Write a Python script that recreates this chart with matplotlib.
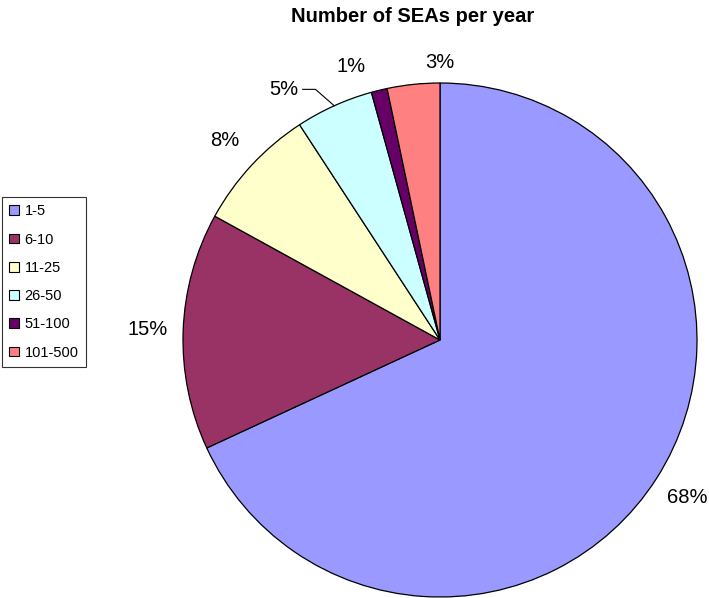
import numpy as np
import matplotlib.pyplot as plt

categories = ['1-5', '6-10', '11-25', '26-50', '51-100', '101-500']
values = [68.1, 14.9, 7.8, 4.9, 1.0, 3.3]
pct_labels = ['68%', '15%', '8%', '5%', '1%', '3%']
colors = ['#9999FF', '#993366', '#FFFFCC', '#CCFFFF', '#660066', '#FF8080']

plt.rcParams['font.family'] = ['Liberation Sans', 'DejaVu Sans']

fig = plt.figure(figsize=(7.09, 5.98), dpi=100)
ax = fig.add_axes([(440 - 257) / 709, 1 / 598, 514 / 709, 514 / 598])

wedges, texts = ax.pie(values, colors=colors, startangle=90, counterclock=False,
                       labels=pct_labels, labeldistance=1.12,
                       wedgeprops=dict(edgecolor='black', linewidth=0.9),
                       textprops=dict(fontsize=14.5))
ax.set_xlim(-1, 1)
ax.set_ylim(-1, 1)
ax.set_aspect('equal')

# nudge crowded small labels like excel does
for i, t in enumerate(texts):
    t.set_ha('center')
    t.set_va('center')
    w = wedges[i]
    mid = np.deg2rad((w.theta1 + w.theta2) / 2)
    r = 1.14
    if pct_labels[i] == '1%':
        mid = np.deg2rad(108)
        r = 1.12
    elif pct_labels[i] == '3%':
        mid = np.deg2rad(90)
        r = 1.08
    elif pct_labels[i] == '5%':
        mid = np.deg2rad(122)
        r = 1.15
        # leader line
        m0 = np.deg2rad((w.theta1 + w.theta2) / 2)
        ex, ey = np.cos(m0), np.sin(m0)
        lx, ly = r * np.cos(mid) + 0.075, r * np.sin(mid)
        ax.plot([lx, lx + 0.05, ex], [ly, ly, ey], color='black', lw=0.8,
                clip_on=False)
    t.set_position((r * np.cos(mid), r * np.sin(mid)))

fig.text(413 / 709, 1 - 17 / 598, 'Number of SEAs per year', ha='center', va='center',
         fontsize=14.5, fontweight='bold')

leg = ax.legend(wedges, categories, loc='upper left',
                bbox_to_anchor=(2 / 709, 1 - 197 / 598), bbox_transform=fig.transFigure,
                fontsize=10.5, frameon=True, fancybox=False, edgecolor='black',
                handlelength=0.65, handleheight=0.65, handletextpad=0.4,
                labelspacing=0.98, borderpad=0.5, borderaxespad=0)
leg.get_frame().set_linewidth(0.8)
for h in leg.legend_handles:
    h.set_linewidth(0.8)

fig.savefig('out.png', dpi=100)
